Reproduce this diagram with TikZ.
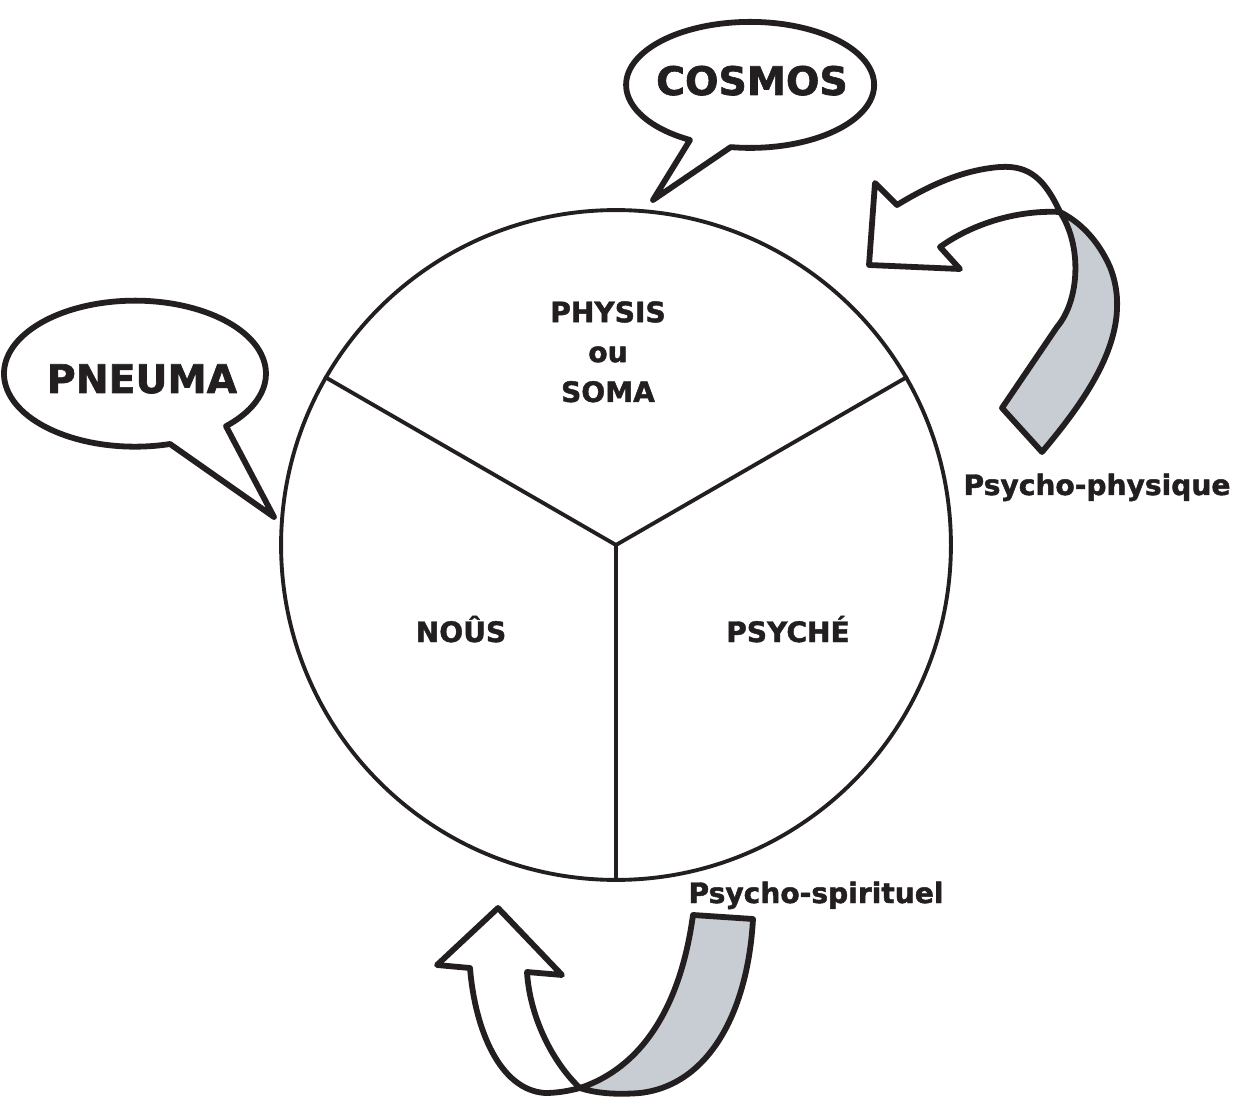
\documentclass[tikz,border=0pt]{standalone}
\usepackage{fontspec}
\setmainfont{DejaVu Sans}[BoldFeatures={FakeBold=1.6}]
\usepackage{xcolor}
\usepackage{tikz}

\definecolor{ribbongray}{RGB}{200,204,211}
\definecolor{inkblack}{RGB}{35,31,32}

\begin{document}
\begin{tikzpicture}[x=0.02cm, y=-0.02cm, line join=round,
  soul/.style={circle, draw=inkblack, line width=2.2pt, minimum size=13.4cm,
               inner sep=0pt},
  bubble/.style={draw=inkblack, fill=white, line width=3.3pt},
  ribbon/.style={draw=inkblack, line width=3.3pt},
  bigword/.style={font=\fontsize{22.4}{26}\selectfont\bfseries,
                  text=inkblack, anchor=base, inner sep=0pt},
  word/.style={font=\fontsize{16}{22.7}\selectfont\bfseries,
               text=inkblack, inner sep=0pt}]

  \useasboundingbox (0,0) rectangle (1242,1098);

  %% Circle and its three parts
  \node[soul] (ame) at (616,545) {};
  \draw[inkblack, line width=2.2pt] (ame.150) -- (ame.center) -- (ame.30);
  \draw[inkblack, line width=2.2pt] (ame.center) -- (ame.270);

  \node[word, align=center, anchor=north] (physis) at (608,301)
    {PHYSIS\\ou\\SOMA};
  \node[word, anchor=base] (nous) at (461,642) {NOÛS};
  \node[word, anchor=base] (psyche) at (788,642) {PSYCHÉ};

  %% Speech bubbles
  \draw[bubble] (690,140) arc[start angle=119, end angle=459,
    x radius=124, y radius=63] -- (653,200) -- cycle;
  \node[bigword] (cosmos) at (752,95) {COSMOS};

  \draw[bubble] (170,444) arc[start angle=74.5, end angle=406,
    x radius=131, y radius=73] -- (274,517) -- cycle;
  \node[bigword] (pneuma) at (142,393) {PNEUMA};

  %% Upper ribbon arrow
  \fill[ribbongray] (1060,212) .. controls (1082,245) and (1080,300) .. (1057,327)
    -- (1002,408) -- (1042,452)
    .. controls (1090,395) and (1135,330) .. (1110,267)
    .. controls (1098,240) and (1080,222) .. (1060,212) -- cycle;
  \fill[white] (897,205) -- (875,183) -- (869,265) -- (960,269) -- (940,247)
    .. controls (975,222) and (1020,210) .. (1060,212)
    .. controls (1045,180) and (1030,165) .. (1000,167)
    .. controls (960,170) and (925,188) .. (897,205) -- cycle;
  \draw[ribbon] (897,205) -- (875,183) -- (869,265) -- (960,269) -- (940,247)
    .. controls (975,222) and (1020,210) .. (1060,212)
    .. controls (1080,222) and (1098,240) .. (1110,267)
    .. controls (1135,330) and (1090,395) .. (1042,452) -- (1002,408)
    -- (1057,327) .. controls (1080,300) and (1082,245) .. (1060,212)
    .. controls (1045,180) and (1030,165) .. (1000,167)
    .. controls (960,170) and (925,188) .. (897,205) -- cycle;
  \node[word, anchor=base] (psychophys) at (1097,495) {Psycho-physique};

  %% Lower ribbon arrow
  \fill[ribbongray] (580,1088) .. controls (640,1068) and (680,1010) .. (693,915)
    -- (753,919) .. controls (748,1010) and (710,1085) .. (640,1093)
    .. controls (615,1095) and (595,1093) .. (580,1088) -- cycle;
  \fill[white] (498,908) -- (437,965) -- (470,968)
    .. controls (475,1030) and (500,1090) .. (545,1093)
    .. controls (560,1093) and (572,1090) .. (580,1088)
    .. controls (555,1065) and (530,1020) .. (527,972)
    -- (562,975) -- cycle;
  \draw[ribbon] (498,908) -- (437,965) -- (470,968)
    .. controls (475,1030) and (500,1090) .. (545,1093)
    .. controls (560,1093) and (572,1090) .. (580,1088)
    .. controls (640,1068) and (680,1010) .. (693,915)
    -- (753,919) .. controls (748,1010) and (710,1085) .. (640,1093)
    .. controls (615,1095) and (595,1093) .. (580,1088)
    .. controls (555,1065) and (530,1020) .. (527,972)
    -- (562,975) -- cycle;
  \node[word, anchor=base] (psychospir) at (816,903) {Psycho-spirituel};

\end{tikzpicture}
\end{document}
